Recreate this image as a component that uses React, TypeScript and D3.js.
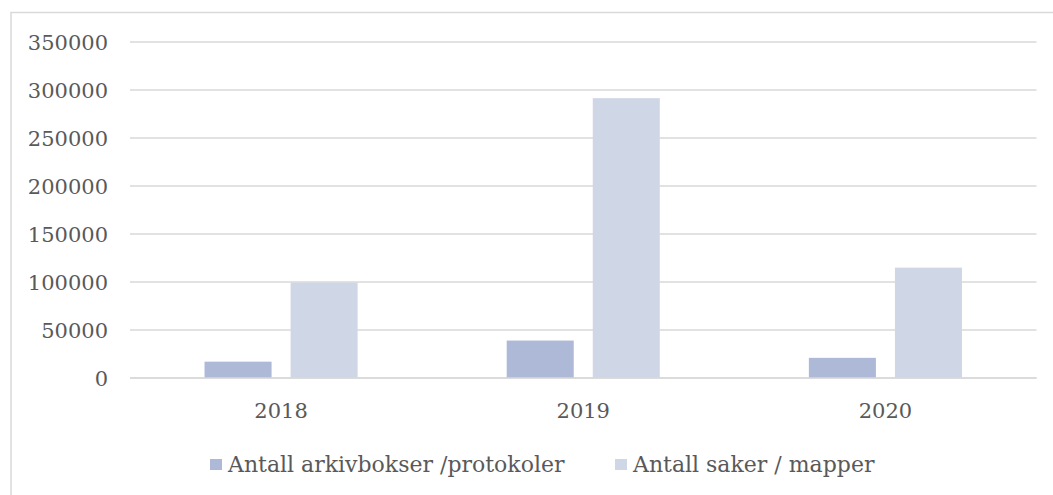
import React from "react";
import * as d3 from "d3";

const categories = ["2018", "2019", "2020"];
const seriesNames = ["Antall arkivbokser /protokoler", "Antall saker / mapper"];
const arkivbokser = [17000, 39000, 21000];
const saker = [99500, 291500, 115000];
const yTicks = [0, 50000, 100000, 150000, 200000, 250000, 300000, 350000];
const colors = ["#ADB9D6", "#CFD6E5"];

const W = 1053;
const H = 495;
const FONT = "'DejaVu Serif', serif";

export default function App() {
  const plotL = 130, plotR = 1036.5, plotT = 42, plotB = 378;
  const x = d3.scaleBand<string>().domain(categories).range([plotL, plotR]).paddingInner(0).paddingOuter(0);
  const y = d3.scaleLinear().domain([0, 350000]).range([plotB, plotT]);
  const inner = d3.scaleBand<number>().domain([0, 1]).range([0, x.bandwidth()]).paddingInner(0.221).paddingOuter(0.866);
  const series = [arkivbokser, saker];

  return (
    <svg width={W} height={H} style={{ position: "absolute", left: 0, top: 0, background: "#fff" }}>
      <rect x={11} y={12.5} width={W + 20} height={H + 20} fill="#fff" stroke="#D9D9D9" strokeWidth={1.5} />
      {yTicks.map((t) => (
        <g key={t}>
          <line x1={plotL} x2={plotR} y1={y(t)} y2={y(t)} stroke="#D9D9D9" strokeWidth={1.5} />
          <text x={108} y={y(t)} dy="0.36em" textAnchor="end" fontFamily={FONT} fontSize={21} fill="#595959">
            {t}
          </text>
        </g>
      ))}
      {series.map((vals, si) =>
        categories.map((c, ci) => {
          const bx = (x(c) as number) + (inner(si) as number);
          return (
            <rect
              key={si + "-" + c}
              x={bx}
              y={y(vals[ci])}
              width={inner.bandwidth()}
              height={y(0) - y(vals[ci])}
              fill={colors[si]}
            />
          );
        })
      )}
      <line x1={plotL} x2={plotR} y1={y(0)} y2={y(0)} stroke="#D9D9D9" strokeWidth={1.5} />
      {categories.map((c) => (
        <text key={c} x={(x(c) as number) + x.bandwidth() / 2} y={418} textAnchor="middle" fontFamily={FONT} fontSize={21} fill="#595959">
          {c}
        </text>
      ))}
      {seriesNames.map((n, i) => {
        const lx = i === 0 ? 210 : 615;
        return (
          <g key={n}>
            <rect x={lx} y={459} width={12} height={11} fill={colors[i]} />
            <text x={lx + 18} y={471.5} fontFamily={FONT} fontSize={22} fill="#595959">
              {n}
            </text>
          </g>
        );
      })}
    </svg>
  );
}
